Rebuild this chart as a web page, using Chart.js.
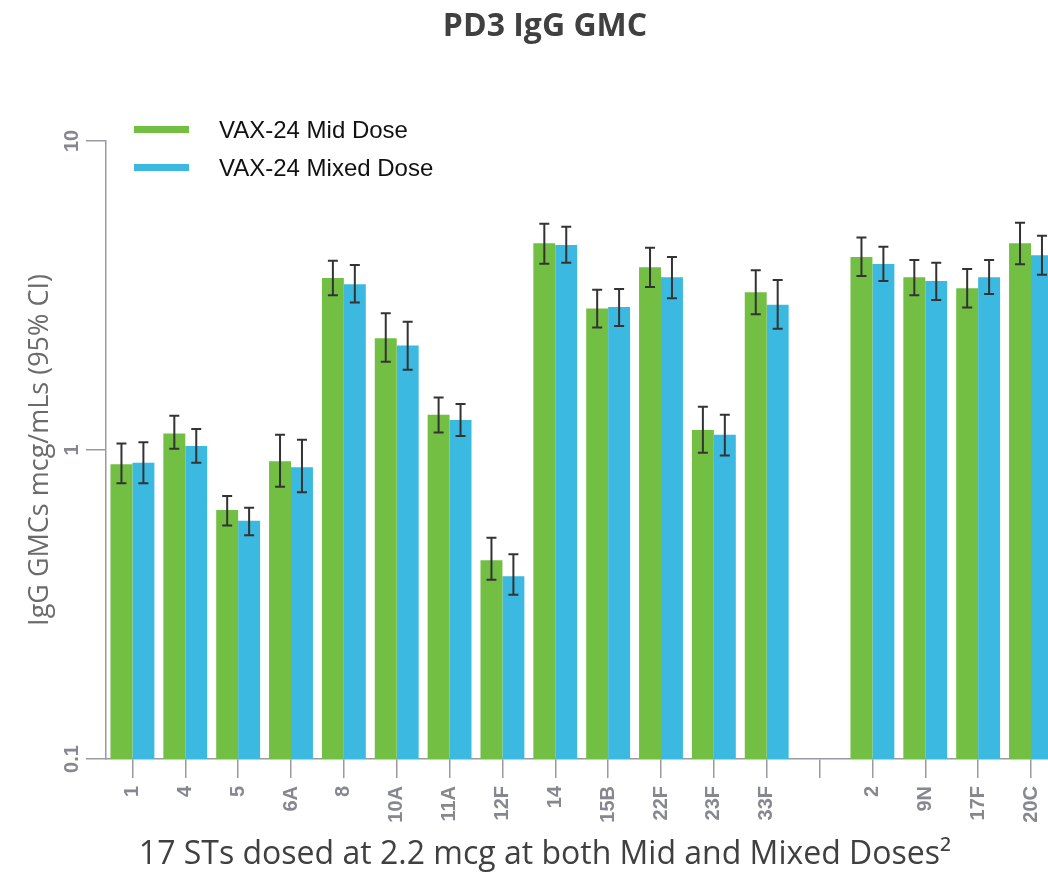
<!DOCTYPE html>
<html>
<head>
<meta charset="utf-8">
<script src="https://cdn.jsdelivr.net/npm/chart.js@4.4.0/dist/chart.umd.min.js"></script>
<style>
  html, body { margin: 0; padding: 0; background: #fff; overflow: hidden; }
  #wrap { width: 1063px; height: 874px; }
</style>
</head>
<body>
<div id="wrap"><canvas id="myChart"></canvas></div>
<script>
// serotypes, '' is the blank slot between the two groups
const categories = ['1', '4', '5', '6A', '8', '10A', '11A', '12F', '14', '15B', '22F', '23F', '33F', '', '2', '9N', '17F', '20C'];

const midDose   = [0.90, 1.13, 0.64, 0.92, 3.60, 2.30, 1.30, 0.44, 4.67, 2.87, 3.90, 1.16, 3.24, null, 4.21, 3.62, 3.34, 4.67];
const midLow    = [0.78, 1.01, 0.57, 0.76, 3.17, 1.93, 1.14, 0.38, 4.01, 2.49, 3.37, 0.98, 2.75, null, 3.66, 3.17, 2.89, 3.99];
const midHigh   = [1.05, 1.29, 0.71, 1.12, 4.10, 2.77, 1.48, 0.52, 5.40, 3.30, 4.51, 1.38, 3.82, null, 4.87, 4.12, 3.85, 5.44];

const mixedDose = [0.91, 1.03, 0.59, 0.88, 3.44, 2.18, 1.25, 0.39, 4.61, 2.90, 3.62, 1.12, 2.95, null, 4.00, 3.52, 3.62, 4.27];
const mixedLow  = [0.78, 0.91, 0.53, 0.73, 3.00, 1.82, 1.11, 0.34, 4.04, 2.52, 3.10, 0.96, 2.47, null, 3.52, 3.06, 3.20, 3.69];
const mixedHigh = [1.06, 1.17, 0.65, 1.08, 3.97, 2.60, 1.41, 0.46, 5.28, 3.32, 4.21, 1.30, 3.55, null, 4.55, 4.04, 4.12, 4.94];

const yTicks = [0.1, 1, 10];
const yTickLabels = ['0.1', '1', '10'];

const GREEN = '#72bf44';
const BLUE = '#3bb9e0';
const AXIS_GREY = '#9a9aa0';
const LABEL_GREY = '#86878f';

const ciLow = [midLow, mixedLow];
const ciHigh = [midHigh, mixedHigh];

// whiskers for the 95% CI
const errorBars = {
    id: 'errorBars',
    afterDatasetsDraw(chart) {
        const { ctx } = chart;
        const yScale = chart.scales.y;
        ctx.save();
        ctx.strokeStyle = '#333';
        ctx.lineWidth = 2;
        chart.data.datasets.forEach((ds, d) => {
            const meta = chart.getDatasetMeta(d);
            meta.data.forEach((bar, i) => {
                if (ciLow[d][i] == null) return;
                const x = bar.x;
                const yl = yScale.getPixelForValue(ciLow[d][i]);
                const yh = yScale.getPixelForValue(ciHigh[d][i]);
                ctx.beginPath();
                ctx.moveTo(x, yl); ctx.lineTo(x, yh);
                ctx.moveTo(x - 5, yl); ctx.lineTo(x + 5, yl);
                ctx.moveTo(x - 5, yh); ctx.lineTo(x + 5, yh);
                ctx.stroke();
            });
        });
        ctx.restore();
    }
};

// title, bottom caption and the line-style legend
const decor = {
    id: 'decor',
    afterDraw(chart) {
        const { ctx } = chart;
        ctx.save();
        ctx.fillStyle = '#404040';
        ctx.textAlign = 'center';
        ctx.textBaseline = 'middle';
        ctx.font = 'bold 32px "Open Sans"';
        ctx.fillText('PD3 IgG GMC', 545, 27);
        ctx.font = '32px "Open Sans"';
        ctx.fillText('17 STs dosed at 2.2 mcg at both Mid and Mixed Doses\u00b2', 545, 855);

        ctx.textAlign = 'left';
        ctx.textBaseline = 'alphabetic';
        ctx.font = '24px "Liberation Sans"';
        chart.data.datasets.forEach((ds, d) => {
            const y = 126 + d * 38;
            ctx.fillStyle = ds.backgroundColor;
            ctx.fillRect(134, y, 55, 7);
            ctx.fillStyle = '#111';
            ctx.fillText(ds.label, 219, y + 12);
        });
        ctx.restore();
    }
};

new Chart(document.getElementById('myChart'), {
    type: 'bar',
    data: {
        labels: categories,
        datasets: [
            { label: 'VAX-24 Mid Dose', data: midDose, backgroundColor: GREEN },
            { label: 'VAX-24 Mixed Dose', data: mixedDose, backgroundColor: BLUE }
        ]
    },
    options: {
        responsive: true,
        maintainAspectRatio: false,
        animation: false,
        layout: { padding: { top: 141, left: 0, right: 0, bottom: 0 } },
        datasets: { bar: { barPercentage: 1.0, categoryPercentage: 0.83 } },
        plugins: {
            legend: { display: false },
            title: { display: false },
            tooltip: { enabled: false }
        },
        scales: {
            x: {
                grid: { drawOnChartArea: false, offset: false, tickLength: 19, color: AXIS_GREY, lineWidth: 1.5 },
                border: { color: AXIS_GREY, width: 1.5 },
                ticks: {
                    autoSkip: false,
                    minRotation: 90,
                    maxRotation: 90,
                    padding: 8,
                    color: LABEL_GREY,
                    font: { family: '"Liberation Sans"', size: 20, weight: 'bold' }
                },
                afterFit(scale) { scale.height = 115; }
            },
            y: {
                type: 'logarithmic',
                min: 0.1,
                max: 10,
                grid: { drawOnChartArea: false, tickLength: 20, color: AXIS_GREY, lineWidth: 1.5 },
                border: { color: AXIS_GREY, width: 1.5 },
                afterBuildTicks(scale) {
                    scale.ticks = yTicks.map(v => ({ value: v }));
                },
                ticks: {
                    minRotation: 90,
                    maxRotation: 90,
                    crossAlign: 'center',
                    padding: 0,
                    color: LABEL_GREY,
                    font: { family: '"Liberation Sans"', size: 20, weight: 'bold' },
                    callback: (value, index) => yTickLabels[index]
                },
                title: {
                    display: true,
                    text: 'IgG GMCs mcg/mLs (95% CI)',
                    color: '#6b6b6b',
                    font: { family: '"Open Sans"', size: 27 },
                    padding: { top: 24, bottom: 0 }
                },
                afterFit(scale) { scale.width = 106; }
            }
        }
    },
    plugins: [errorBars, decor]
});
</script>
</body>
</html>
